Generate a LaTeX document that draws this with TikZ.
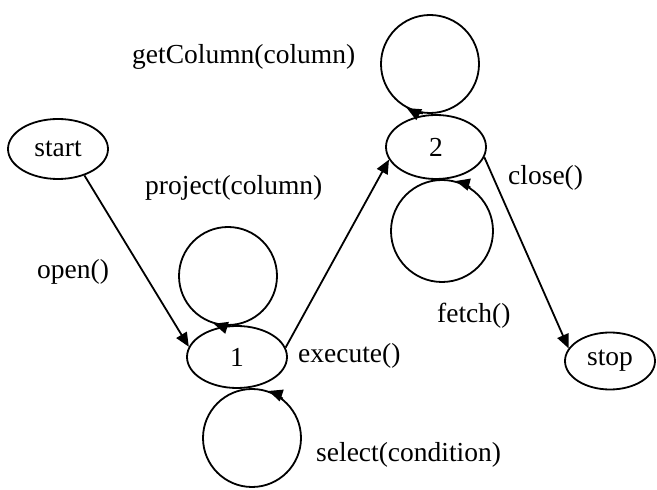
\documentclass[tikz,border=0pt]{standalone}
\usepackage{fontspec}
\setmainfont{Liberation Serif}
\usetikzlibrary{arrows.meta,shapes.geometric}
\begin{document}
\begin{tikzpicture}[x=1pt,y=1pt,
  every node/.style={font=\fontsize{27.5}{30}\selectfont},
  state/.style={ellipse,draw,line width=1.8pt,inner sep=0pt,minimum width=100pt,minimum height=62pt},
  loopc/.style={circle,draw,line width=1.8pt,inner sep=0pt,minimum size=98pt},
  edge/.style={line width=1.8pt,-{Triangle[length=14pt,width=12pt]}},
  lbl/.style={anchor=base west,inner sep=0pt}]
\useasboundingbox (0,0) rectangle (657,490);
% states
\node[state,minimum height=60pt] (start) at (58,341) {start};
\node[state] (n1) at (237,133) {1};
\node[state,minimum height=64pt] (n2) at (436,343) {2};
\node[state,minimum width=90pt,minimum height=57pt] (stop) at (610,129) {stop};
% self loops
\node[loopc] (lp) at (228,214) {};
\node[loopc] (ls) at (252,52) {};
\node[loopc] (lg) at (430,426) {};
\node[loopc,minimum size=102pt] (lf) at (442,259) {};
\draw[edge] (lp.-90) arc[start angle=-90,end angle=-107,radius=49pt];
\draw[edge] (lg.-98) arc[start angle=-98,end angle=-118,radius=49pt];
\draw[edge] (lf.57) arc[start angle=57,end angle=75,radius=51pt];
\draw[edge] (ls.52) arc[start angle=52,end angle=71,radius=49pt];
% transitions
\draw[edge] (start.-45) -- (n1.168);
\draw[edge] (n1.11) -- (n2.195);
\draw[edge] (n2.-12) -- (stop.163);
% labels
\node[lbl] (tg) at (132,426) {getColumn(column)};
\node[lbl] (tp) at (145,295) {project(column)};
\node[lbl] (to) at (37,211) {open()};
\node[lbl] (te) at (298,127) {execute()};
\node[lbl] (tsel) at (316,28) {select(condition)};
\node[lbl] (tc) at (508,305) {close()};
\node[lbl] (tf) at (437,167) {fetch()};
\end{tikzpicture}
\end{document}
